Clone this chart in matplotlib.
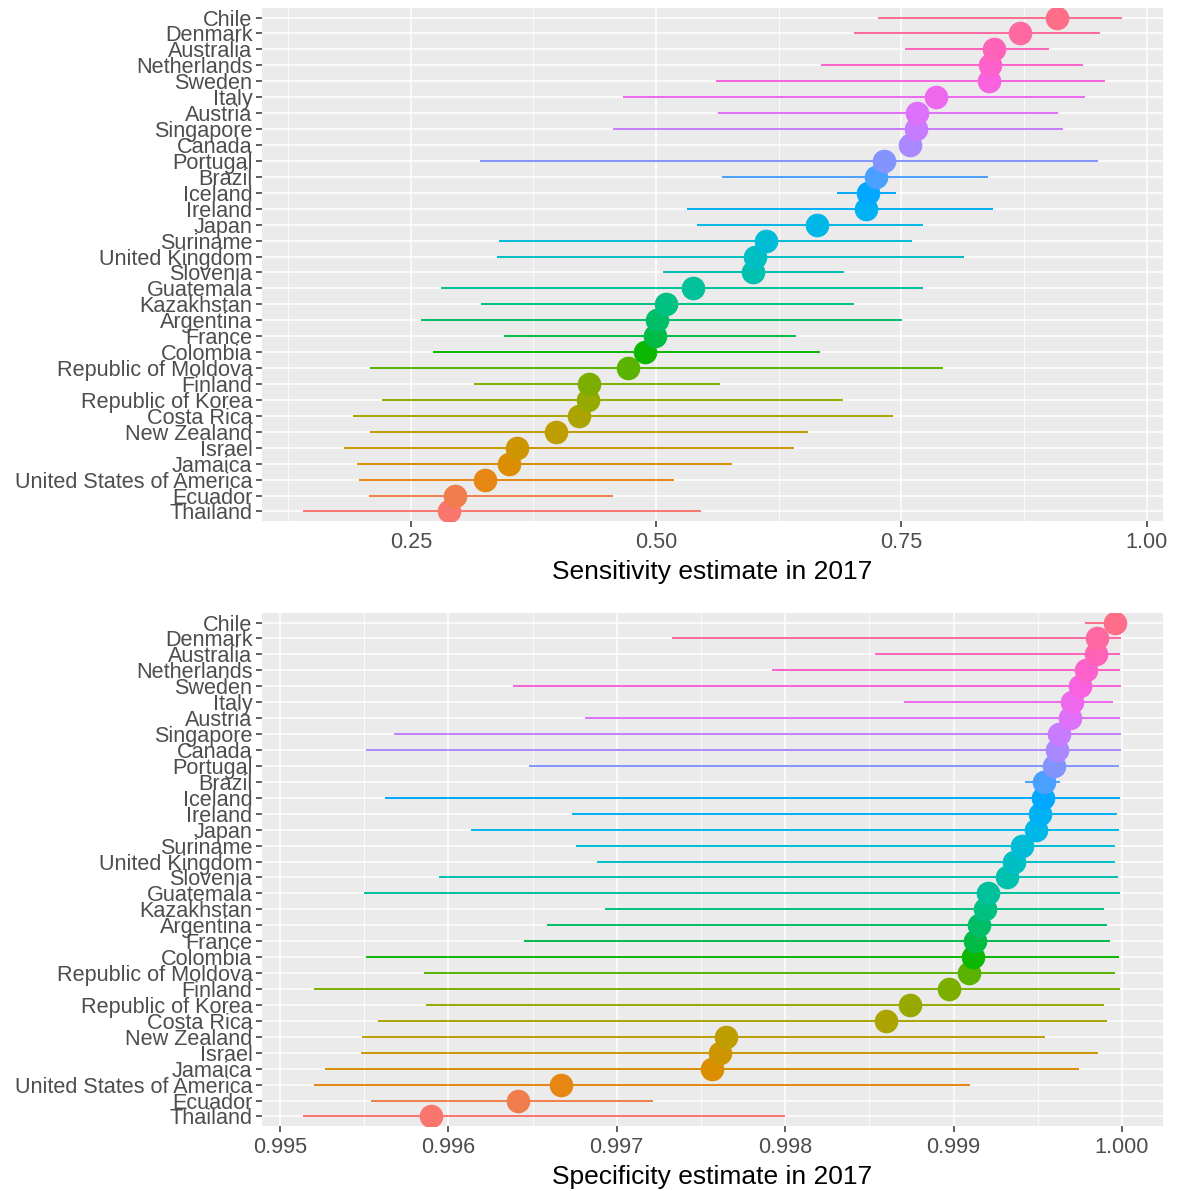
import numpy as np
import matplotlib
matplotlib.use("Agg")
import matplotlib.pyplot as plt
from matplotlib.ticker import MultipleLocator

plt.rcParams['font.family'] = ['Liberation Sans', 'DejaVu Sans']

# ---------------- data (bottom -> top) ----------------
countries = ["Thailand", "Ecuador", "United States of America", "Jamaica", "Israel",
             "New Zealand", "Costa Rica", "Republic of Korea", "Finland", "Republic of Moldova",
             "Colombia", "France", "Argentina", "Kazakhstan", "Guatemala", "Slovenia",
             "United Kingdom", "Suriname", "Japan", "Ireland", "Iceland", "Brazil", "Portugal",
             "Canada", "Singapore", "Austria", "Italy", "Sweden", "Netherlands", "Australia",
             "Denmark", "Chile"]

sens_est = [0.289, 0.295, 0.326, 0.350, 0.358, 0.398, 0.421, 0.431, 0.432, 0.4715,
            0.489, 0.499, 0.501, 0.510, 0.538, 0.599, 0.601, 0.612, 0.664, 0.714,
            0.716, 0.724, 0.732, 0.759, 0.765, 0.766, 0.785, 0.839, 0.840, 0.844,
            0.871, 0.909]
sens_lo = [0.140, 0.207, 0.197, 0.195, 0.182, 0.208, 0.191, 0.221, 0.3145, 0.208,
           0.273, 0.345, 0.260, 0.321, 0.281, 0.507, 0.338, 0.340, 0.542, 0.531,
           0.684, 0.567, 0.320, np.nan, 0.456, 0.563, 0.466, 0.561, 0.668, 0.754,
           0.702, 0.726]
sens_hi = [0.546, 0.456, 0.518, 0.577, 0.641, 0.655, 0.741, 0.691, 0.565, 0.792,
           0.667, 0.643, 0.751, 0.702, 0.772, 0.692, 0.814, 0.761, 0.772, 0.843,
           0.745, 0.838, 0.950, np.nan, 0.915, 0.910, 0.937, 0.958, 0.935, 0.901,
           0.953, 0.975]

spec_est = [0.99590, 0.996412, 0.99667, 0.997565, 0.997614, 0.997647, 0.998599, 0.998744,
            0.998971, 0.999092, 0.999113, 0.999126, 0.999151, 0.999185, 0.999206, 0.999316,
            0.99936, 0.999407, 0.999487, 0.99951, 0.999533, 0.999536, 0.999598, 0.999616,
            0.999623, 0.999691, 0.999701, 0.99975, 0.999786, 0.999843, 0.999853, 0.999956]
spec_lo = [0.995137, 0.995541, 0.9952, 0.995266, 0.995482, 0.995487, 0.99558, 0.995868,
           0.9952, 0.995853, 0.99551, 0.996448, 0.996585, 0.99693, 0.995498, 0.995944,
           0.996884, 0.99676, 0.996134, 0.996737, 0.995623, 0.999425, 0.996482, 0.995512,
           0.995675, 0.996812, 0.998708, 0.996387, 0.997921, 0.998532, 0.997328, 0.999781]
spec_hi = [0.997996, 0.997214, 0.999095, 0.999745, 0.999856, 0.999541, 0.999913, 0.999894,
           0.99999, 0.999961, 0.999979, 0.999928, 0.99991, 0.999892, 0.999985, 0.999974,
           0.999961, 0.999959, 0.999979, 0.999972, 0.99999, 0.999634, 0.999982, 0.999995,
           0.999995, 0.99999, 0.999944, 0.999995, 0.99999, 0.99999, 0.999995, 1.0]

sens_ticks = [0.25, 0.50, 0.75, 1.00]
sens_ticklabels = ["0.25", "0.50", "0.75", "1.00"]
spec_ticks = [0.995, 0.996, 0.997, 0.998, 0.999, 1.000]
spec_ticklabels = ["0.995", "0.996", "0.997", "0.998", "0.999", "1.000"]


# ---------------- ggplot hue palette ----------------
def hcl_to_rgb(h, c=100.0, l=65.0):
    Xn, Yn, Zn = 95.047, 100.0, 108.883
    un = 4 * Xn / (Xn + 15 * Yn + 3 * Zn)
    vn = 9 * Yn / (Xn + 15 * Yn + 3 * Zn)
    hr = np.deg2rad(h)
    U, V = c * np.cos(hr), c * np.sin(hr)
    Y = Yn * ((l + 16) / 116) ** 3 if l > 8 else Yn * l / 903.3
    up = U / (13 * l) + un
    vp = V / (13 * l) + vn
    X = Y * 9 * up / (4 * vp)
    Z = Y * (12 - 3 * up - 20 * vp) / (4 * vp)
    X, Y, Z = X / 100, Y / 100, Z / 100
    r = 3.240479 * X - 1.537150 * Y - 0.498535 * Z
    g = -0.969256 * X + 1.875992 * Y + 0.041556 * Z
    b = 0.055648 * X - 0.204043 * Y + 1.057311 * Z

    def gam(t):
        t = 1.055 * t ** (1 / 2.4) - 0.055 if t > 0.0031308 else 12.92 * t
        return min(max(t, 0), 1)
    return (gam(r), gam(g), gam(b))


n = len(countries)
hues = np.linspace(15, 375, n + 1)[:n]
colors = [hcl_to_rgb(h % 360) for h in hues]

# ---------------- figure ----------------
fig = plt.figure(figsize=(11.81, 11.91), dpi=100)
W, H = 1181, 1191
ax1 = fig.add_axes([262 / W, 1 - 521 / H, (1163 - 262) / W, (521 - 8) / H])
ax2 = fig.add_axes([262 / W, 1 - 1126 / H, (1163 - 262) / W, (1126 - 613) / H])

ypos = np.arange(n)


def style(ax, est, lo, hi, ticks, ticklabels, minor, title):
    ax.set_facecolor("#EBEBEB")
    for s in ax.spines.values():
        s.set_visible(False)
    vals = np.array([v for v in list(lo) + list(hi) + list(est) if not np.isnan(v)])
    vmin, vmax = vals.min(), vals.max()
    pad = 0.05 * (vmax - vmin)
    ax.set_xlim(vmin - pad, vmax + pad)
    ax.set_ylim(-0.6, n - 1 + 0.6)
    ax.set_xticks(ticks)
    ax.set_xticklabels(ticklabels)
    ax.xaxis.set_minor_locator(MultipleLocator(minor))
    ax.set_yticks(ypos)
    ax.set_yticklabels(countries)
    ax.grid(which="major", color="white", linewidth=1.1)
    ax.grid(which="minor", axis="x", color="white", linewidth=0.55)
    ax.set_axisbelow(True)
    ax.tick_params(axis="both", which="major", length=4.3, width=1.1, color="#333333",
                   labelsize=15.6, labelcolor="#4D4D4D")
    ax.tick_params(axis="x", which="major", pad=3.5)
    ax.tick_params(axis="y", which="major", pad=2.5)
    ax.tick_params(which="minor", length=0)
    for i in range(n):
        if not (np.isnan(lo[i]) or np.isnan(hi[i])):
            ax.plot([lo[i], hi[i]], [ypos[i], ypos[i]], color=colors[i], lw=1.4,
                    solid_capstyle="butt", zorder=2)
    for i in range(n):
        ax.plot(est[i], ypos[i], "o", ms=17, color=colors[i], mec="none", zorder=3)
    ax.set_xlabel(title, fontsize=19, color="black", labelpad=5)


style(ax1, sens_est, sens_lo, sens_hi, sens_ticks, sens_ticklabels, 0.125,
      "Sensitivity estimate in 2017")
style(ax2, spec_est, spec_lo, spec_hi, spec_ticks, spec_ticklabels, 0.0005,
      "Specificity estimate in 2017")

fig.savefig("out.png", dpi=100, facecolor="white")
